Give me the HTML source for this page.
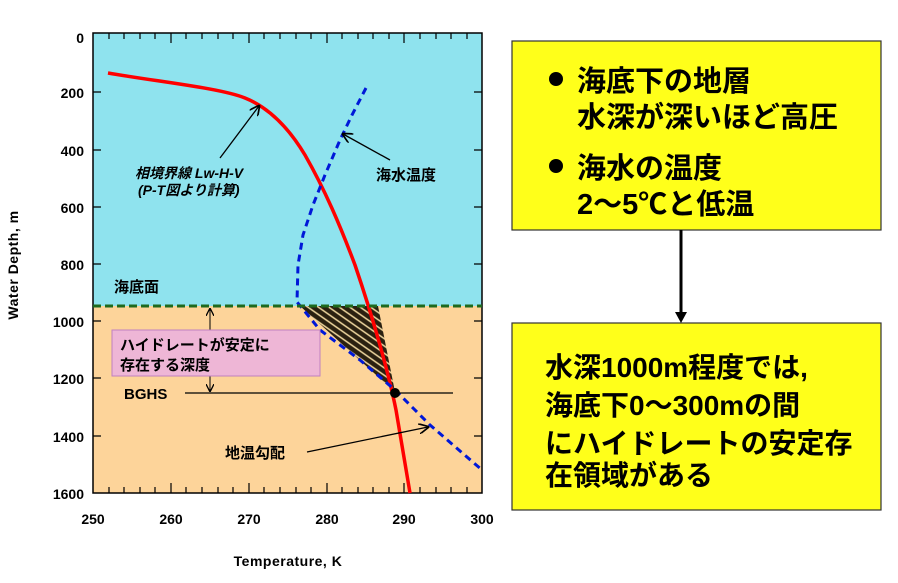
<!DOCTYPE html>
<html><head><meta charset="utf-8"><style>
body{margin:0;background:#fff;width:898px;height:578px;overflow:hidden}
svg text{font-family:"Liberation Sans","Noto Sans CJK JP",sans-serif}
</style></head><body>
<svg width="898" height="578" viewBox="0 0 898 578" xmlns="http://www.w3.org/2000/svg">
<defs>
<pattern id="h" width="6" height="6" patternUnits="userSpaceOnUse" patternTransform="rotate(35)">
<rect width="6" height="6" fill="#2a2010"/><line x1="0" y1="3" x2="6" y2="3" stroke="#f0d8a0" stroke-width="1.5"/></pattern>
<marker id="a" markerWidth="8" markerHeight="8" refX="7" refY="4" orient="auto"><path d="M0,0 L8,4 L0,8" fill="none" stroke="#000" stroke-width="1.3"/></marker>
</defs>
<rect x="93" y="33" width="389" height="273" fill="#8fe3ee"/>
<rect x="93" y="306" width="389" height="187" fill="#fdd49a"/>
<rect x="93" y="33" width="389" height="460" fill="none" stroke="#000" stroke-width="1.5"/>
<g stroke="#000" stroke-width="1.2">
<path d="M93,92h8M93,150h8M93,207h8M93,264h8M93,321h8M93,378h8M93,436h8M482,92h-8M482,150h-8M482,207h-8M482,264h-8M482,321h-8M482,378h-8M482,436h-8"/>
<path d="M109,33v6M124,33v6M140,33v6M155,33v6M171,33v10M186,33v6M202,33v6M218,33v6M233,33v6M249,33v10M264,33v6M280,33v6M296,33v6M311,33v6M327,33v10M342,33v6M358,33v6M373,33v6M389,33v6M404,33v10M420,33v6M436,33v6M451,33v6M467,33v6"/>
<path d="M109,493v-6M124,493v-6M140,493v-6M155,493v-6M171,493v-10M186,493v-6M202,493v-6M218,493v-6M233,493v-6M249,493v-10M264,493v-6M280,493v-6M296,493v-6M311,493v-6M327,493v-10M342,493v-6M358,493v-6M373,493v-6M389,493v-6M404,493v-10M420,493v-6M436,493v-6M451,493v-6M467,493v-6"/>
</g>
<g font-size="14" font-weight="bold" text-anchor="end">
<text x="84" y="43">0</text><text x="84" y="98">200</text><text x="84" y="156">400</text><text x="84" y="213">600</text><text x="84" y="270">800</text><text x="84" y="327">1000</text><text x="84" y="384">1200</text><text x="84" y="442">1400</text><text x="84" y="499">1600</text>
</g>
<g font-size="14" font-weight="bold" text-anchor="middle">
<text x="93" y="524">250</text><text x="171" y="524">260</text><text x="249" y="524">270</text><text x="327" y="524">280</text><text x="404" y="524">290</text><text x="482" y="524">300</text>
<text x="288" y="566" font-size="14" letter-spacing="0.5">Temperature,  K</text>
<text transform="translate(18,265) rotate(-90)" font-size="14" letter-spacing="0.5">Water Depth,  m</text>
</g>
<polygon points="300,306 378,306 395,392" fill="url(#h)"/>
<path d="M108,73 C160,82 220,88 245,98 C270,108 290,130 305,155 C325,190 340,225 355,265 C372,315 388,370 396,410 L410,493" fill="none" stroke="#f00" stroke-width="3.5"/>
<path d="M366,88 L352,115 L340,140 L325,175 L313,205 L303,235 L298,265 L297,302 L320,330 L360,360 L395,390 L430,425 L482,470" fill="none" stroke="#0018d8" stroke-width="3" stroke-dasharray="7,5"/>
<line x1="93" y1="306" x2="482" y2="306" stroke="#1e6a1e" stroke-width="3" stroke-dasharray="8,4"/>
<line x1="185" y1="393" x2="453" y2="393" stroke="#000" stroke-width="1.2"/>
<circle cx="395" cy="393" r="5" fill="#000"/>
<line x1="210" y1="330" x2="210" y2="309" stroke="#000" marker-end="url(#a)"/>
<line x1="210" y1="376" x2="210" y2="391" stroke="#000" marker-end="url(#a)"/>
<rect x="112" y="330" width="208" height="46" fill="#eeb6d6" stroke="#c080c0"/>
<g font-size="15" font-weight="bold">
<text x="120" y="350">ハイドレートが安定に</text><text x="120" y="370">存在する深度</text>
<text x="124" y="399">BGHS</text>
<text x="114" y="292">海底面</text>
<text x="376" y="180">海水温度</text>
<text x="225" y="458">地温勾配</text>
<text x="135" y="178" font-style="italic" font-size="14">相境界線 Lw-H-V</text>
<text x="138" y="195" font-style="italic" font-size="14">(P-T図より計算)</text>
</g>
<line x1="220" y1="158" x2="259" y2="106" stroke="#000" stroke-width="1.3" marker-end="url(#a)"/>
<line x1="390" y1="160" x2="343" y2="134" stroke="#000" stroke-width="1.3" marker-end="url(#a)"/>
<line x1="307" y1="452" x2="428" y2="427" stroke="#000" stroke-width="1.3" marker-end="url(#a)"/>
<rect x="512" y="41" width="369" height="189" fill="#ffff1a" stroke="#333" stroke-width="1.2"/>
<rect x="512" y="323" width="369" height="187" fill="#ffff1a" stroke="#333" stroke-width="1.2"/>
<line x1="681" y1="230" x2="681" y2="314" stroke="#000" stroke-width="3"/>
<path d="M675,312 L681,323 L687,312Z" fill="#000"/>
<g font-size="29" font-weight="bold">
<circle cx="556" cy="79" r="7" fill="#000"/><circle cx="556" cy="166" r="7" fill="#000"/>
<text x="577" y="91">海底下の地層</text>
<text x="577" y="127">水深が深いほど高圧</text>
<text x="577" y="178">海水の温度</text>
<text x="577" y="214">2～5℃と低温</text>
</g>
<g font-size="28" font-weight="bold">
<text x="545" y="377">水深1000m程度では,</text>
<text x="545" y="415">海底下0～300mの間</text>
<text x="545" y="453">にハイドレートの安定存</text>
<text x="545" y="485">在領域がある</text>
</g>
</svg>
</body></html>
